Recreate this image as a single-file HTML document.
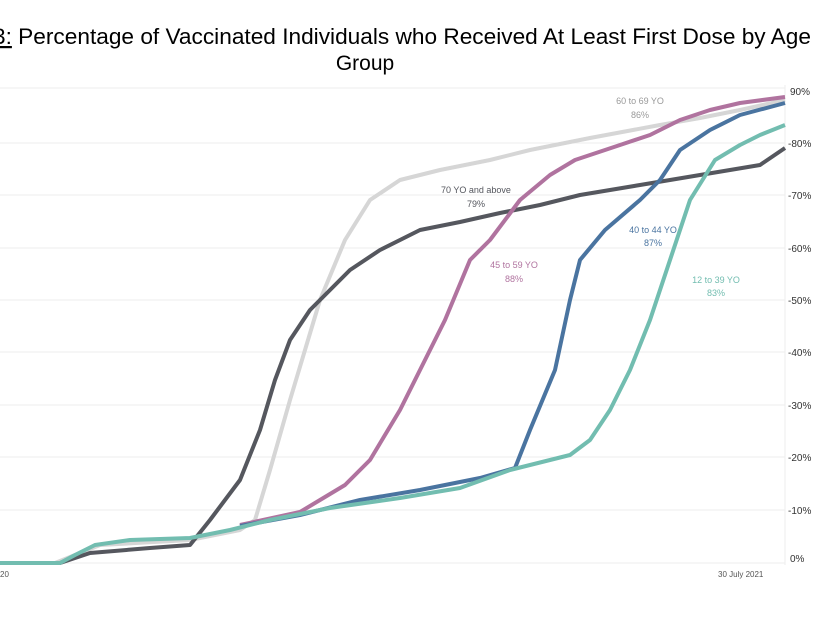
<!DOCTYPE html>
<html><head><style>
body{margin:0;background:#fff;width:830px;height:622px;overflow:hidden}
</style></head><body>
<svg width="830" height="622" xmlns="http://www.w3.org/2000/svg" font-family="Liberation Sans, sans-serif">
<text x="402" y="44" font-size="22" text-anchor="middle" fill="#000" textLength="818" lengthAdjust="spacingAndGlyphs"><tspan text-decoration="underline">3:</tspan> Percentage of Vaccinated Individuals who Received At Least First Dose by Age</text>
<text x="365" y="70" font-size="21" text-anchor="middle" fill="#000">Group</text>
<g stroke="#eee" stroke-width="1">
<line x1="0" y1="88" x2="785" y2="88"/>
<line x1="0" y1="143" x2="785" y2="143"/><line x1="0" y1="195" x2="785" y2="195"/>
<line x1="0" y1="248" x2="785" y2="248"/><line x1="0" y1="300" x2="785" y2="300"/>
<line x1="0" y1="352" x2="785" y2="352"/><line x1="0" y1="405" x2="785" y2="405"/>
<line x1="0" y1="457" x2="785" y2="457"/><line x1="0" y1="510" x2="785" y2="510"/>
<line x1="0" y1="563" x2="785" y2="563"/>
<line x1="785" y1="85" x2="785" y2="565"/>
</g>
<g font-size="10" fill="#333">
<text x="790" y="95">90%</text><text x="788" y="147">-80%</text><text x="788" y="199">-70%</text>
<text x="788" y="252">-60%</text><text x="788" y="304">-50%</text><text x="788" y="356">-40%</text>
<text x="788" y="409">-30%</text><text x="788" y="461">-20%</text><text x="788" y="514">-10%</text>
<text x="790" y="562">0%</text>
<text x="0" y="577" font-size="8" fill="#555">20</text>
<text x="718" y="577" font-size="8" fill="#555">30 July 2021</text>
</g>
<g fill="none" stroke-width="4" stroke-linejoin="round">
<polyline stroke="#d6d6d6" points="0,563 55,563 100,545 190,540 240,530 255,520 270,470 290,400 320,300 345,240 370,200 400,180 440,170 490,160 530,150 590,138 660,125 700,118 740,110 785,100"/>
<polyline stroke="#55575e" points="0,563 60,563 90,553 150,548 190,545 210,520 240,480 260,430 275,380 290,340 310,310 330,290 350,270 380,250 420,230 460,222 500,213 540,205 580,195 640,185 700,175 760,165 785,148"/>
<polyline stroke="#b0739f" points="240,525 300,512 320,500 345,485 370,460 400,410 420,370 445,320 470,260 490,240 520,200 550,175 575,160 620,145 650,135 680,120 710,110 740,103 785,97"/>
<polyline stroke="#4a74a0" points="240,526 300,515 360,500 420,490 480,478 515,468 530,430 555,370 570,300 580,260 605,230 640,200 660,180 680,150 710,130 740,115 785,103"/>
<polyline stroke="#72bdb0" points="0,563 60,563 75,555 95,545 130,540 190,538 230,530 270,520 330,508 400,498 460,488 510,470 570,455 590,440 610,410 630,370 650,320 670,260 690,200 715,160 740,145 760,135 785,125"/>
</g>
<g font-size="9" text-anchor="middle">
<text x="640" y="104" fill="#999">60 to 69 YO</text><text x="640" y="118" fill="#999">86%</text>
<text x="476" y="193" fill="#55575e">70 YO and above</text><text x="476" y="207" fill="#55575e">79%</text>
<text x="514" y="268" fill="#b0739f">45 to 59 YO</text><text x="514" y="282" fill="#b0739f">88%</text>
<text x="653" y="233" fill="#4a74a0">40 to 44 YO</text><text x="653" y="246" fill="#4a74a0">87%</text>
<text x="716" y="283" fill="#72bdb0">12 to 39 YO</text><text x="716" y="296" fill="#72bdb0">83%</text>
</g>
</svg>
</body></html>
